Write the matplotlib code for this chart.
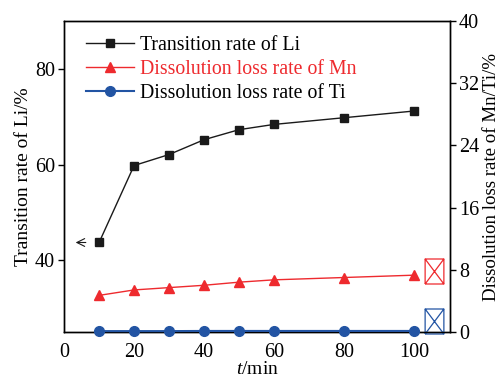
import matplotlib.pyplot as plt
from matplotlib.path import Path

t_min   = [10, 20, 30, 40, 50, 60, 80, 100]
li_rate = [43.7, 59.8, 62.1, 65.2, 67.3, 68.4, 69.8, 71.2]
mn_loss = [4.7, 5.4, 5.7, 6.0, 6.4, 6.7, 7.0, 7.3]
ti_loss = [0.1, 0.1, 0.1, 0.12, 0.12, 0.12, 0.12, 0.12]

BLACK = '#1a1a1a'
RED   = '#ee2a2e'
BLUE  = '#2254a3'

plt.rcParams.update({
    'font.family'     : 'Liberation Serif',
    'font.size'       : 14,
    'xtick.labelsize' : 14.5,
    'ytick.labelsize' : 14.5,
    'mathtext.fontset': 'custom',
    'mathtext.it'     : 'Liberation Serif:italic',
    'mathtext.rm'     : 'Liberation Serif',
    'axes.linewidth'  : 1.0,
})

# box with a cross, as in the reference (stand-in for missing arrow glyphs)
box_x = Path([(-0.75, -1), (0.75, -1), (0.75, 1), (-0.75, 1), (-0.75, -1),
              (-0.75, -1), (0.75, 1), (-0.75, 1), (0.75, -1)],
             [Path.MOVETO, Path.LINETO, Path.LINETO, Path.LINETO, Path.LINETO,
              Path.MOVETO, Path.LINETO, Path.MOVETO, Path.LINETO])

fig, ax = plt.subplots(figsize=(5.01, 3.78), dpi=100)
fig.subplots_adjust(left=0.128, right=0.898, top=0.944, bottom=0.122)
ax2 = ax.twinx()

l1, = ax.plot(t_min, li_rate, color=BLACK, lw=1.0, marker='s', ms=6,
              label='Transition rate of Li')
l2, = ax2.plot(t_min, mn_loss, color=RED, lw=1.0, marker='^', ms=7,
               label='Dissolution loss rate of Mn')
l3, = ax2.plot(t_min, ti_loss, color=BLUE, lw=1.5, marker='o', ms=7,
               label='Dissolution loss rate of Ti', clip_on=False, zorder=5)

ax.set_xlim(0, 110.3)
ax.set_ylim(25, 90)
ax2.set_ylim(0, 40)
ax.set_xticks([0, 20, 40, 60, 80, 100])
ax.set_yticks([40, 60, 80])
ax2.set_yticks([0, 8, 16, 24, 32, 40])
ax.tick_params(axis='x', length=0, pad=8)
ax.tick_params(axis='y', direction='out', length=4.5, width=1, pad=2)
ax2.tick_params(axis='y', direction='out', length=4.5, width=1, pad=2)

ax.set_xlabel('$t$/min', labelpad=-1)
ax.set_ylabel('Transition rate of Li/%', labelpad=2)
ax2.set_ylabel('Dissolution loss rate of Mn/Ti/%', labelpad=3, fontsize=13.6)

# axis pointers
ax.annotate('', xy=(2.5, li_rate[0]), xytext=(7.0, li_rate[0]),
            arrowprops=dict(arrowstyle='->', color=BLACK, lw=0.8))
ax2.plot([105.7], [7.9], marker=box_x, ms=18, color=RED, mew=0.9,
         fillstyle='none', linestyle='none', clip_on=False)
ax2.plot([105.7], [1.4], marker=box_x, ms=18, color=BLUE, mew=0.9,
         fillstyle='none', linestyle='none', clip_on=False)

leg = ax.legend(handles=[l1, l2, l3], loc='upper left', frameon=False,
                fontsize=14.3, handlelength=2.4, handletextpad=0.3,
                labelspacing=0.25, bbox_to_anchor=(0.013, 1.006),
                borderaxespad=0.45)
leg.get_texts()[1].set_color(RED)

fig.savefig('out.png', dpi=100)
